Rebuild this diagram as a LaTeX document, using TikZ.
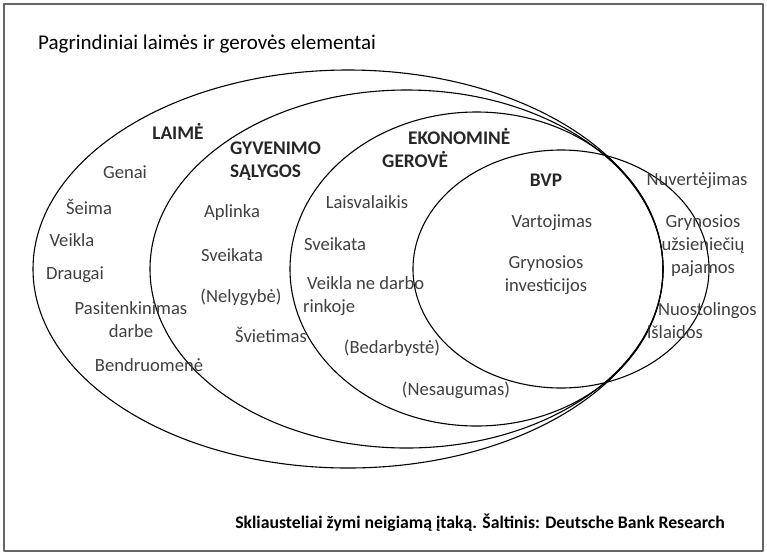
\documentclass[tikz,border=0pt]{standalone}
\usepackage{fontspec}
\setmainfont{Carlito}
\begin{document}
\begin{tikzpicture}[x=1pt, y=-1pt, line join=round, line cap=round,
  lbl/.style={text=black!75, font=\fontsize{18.6}{23}\selectfont, align=center, inner sep=0pt},
  head/.style={text=black!85, font=\bfseries\fontsize{19.3}{23}\selectfont, align=left, inner sep=0pt},
  ring/.style={line width=1.1pt}]
\useasboundingbox (0,0) rectangle (767,555);
\draw[black!60, line width=1.5pt] (4,4) rectangle (763,551);
\def\cy{269}
\draw[ring] (348,\cy) ellipse [x radius=315pt, y radius=199pt];
\draw[ring] (406.5,\cy) ellipse [x radius=256.5pt, y radius=179pt];
\draw[ring] (476.5,\cy) ellipse [x radius=186.5pt, y radius=157pt];
\draw[ring] (561,\cy) ellipse [x radius=148pt, y radius=119pt];
\node[anchor=west, inner sep=0pt, font=\fontsize{21}{25}\selectfont] (title) at (38,44) {Pagrindiniai laimės ir gerovės elementai};
\node[head] (laime) at (178,131) {LAIMĖ};
\node[lbl] (genai) at (125,172) {Genai};
\node[lbl] (seima) at (89,207) {Šeima};
\node[lbl] (veikla) at (72,240) {Veikla};
\node[lbl] (draugai) at (75,275) {Draugai};
\node[lbl] (pasit) at (131,320) {Pasitenkinimas\\darbe};
\node[lbl] (bendr) at (149,365) {Bendruomenė};
\node[head, anchor=west] (gyven) at (230,161) {GYVENIMO\\SĄLYGOS};
\node[lbl] (aplinka) at (232,213) {Aplinka};
\node[lbl] (sveikA) at (232,255) {Sveikata};
\node[lbl] (nelyg) at (241,297) {(Nelygybė)};
\node[lbl] (sviet) at (271,335) {Švietimas};
\node[head, anchor=west] (ekon) at (382,148) {\hspace*{26pt}EKONOMINĖ\\GEROVĖ};
\node[lbl] (laisv) at (367,202) {Laisvalaikis};
\node[lbl] (sveikB) at (335,244) {Sveikata};
\node[lbl, align=left, anchor=west] (neDarbo) at (303,296) {\hspace*{4pt}Veikla ne darbo\\rinkoje};
\node[lbl] (bedarb) at (392,348) {(Bedarbystė)};
\node[lbl] (nesaug) at (456,390) {(Nesaugumas)};
\node[head] (bvp) at (546,180) {BVP};
\node[lbl] (vartoj) at (552,223) {Vartojimas};
\node[lbl] (grynInv) at (546,275) {Grynosios\\investicijos};
\node[lbl] (nuvert) at (697,181) {Nuvertėjimas};
\node[lbl] (grynUzs) at (703,246) {Grynosios\\užsieniečių\\pajamos};
\node[lbl, align=left, anchor=west] (nuost) at (647,321) {\hspace*{11pt}Nuostolingos\\išlaidos};
\node[inner sep=0pt, font=\bfseries\fontsize{17.7}{20}\selectfont] (saltinis) at (480,523) {Skliausteliai žymi neigiamą įtaką. Šaltinis: Deutsche Bank Research};
\end{tikzpicture}
\end{document}
